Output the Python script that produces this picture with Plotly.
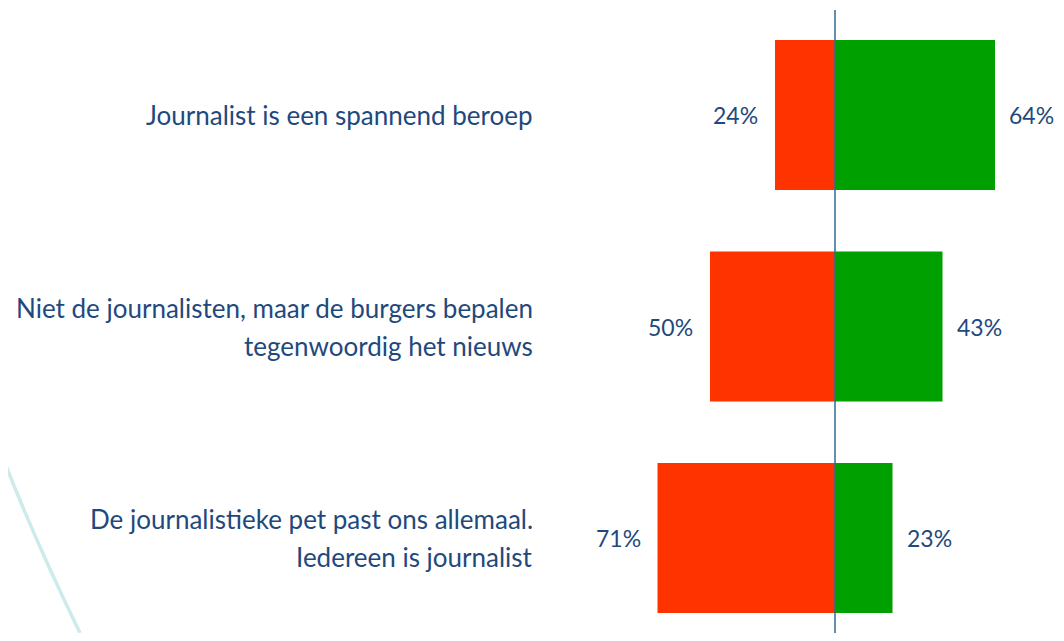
import plotly.graph_objects as go

categories = [
    ["Journalist is een spannend beroep"],
    ["Niet de journalisten, maar de burgers bepalen", "tegenwoordig het nieuws"],
    ["De journalistieke pet past ons allemaal.", "Iedereen is journalist"],
]
disagree = [24, 50, 71]
agree = [64, 43, 23]

OFF = 8           # default page body margin
W, H = 1064 - 2 * OFF, 641 - 2 * OFF
CX = 835 - OFF    # pixel of zero line
PX_PER = 2.5      # pixels per percent
ROW = 211.5       # pixels per category
Y0 = 115 - OFF    # pixel center of first row

xr = [-CX / PX_PER, (W - CX) / PX_PER]
yr = [(H - Y0) / ROW, -Y0 / ROW]

TXT = "#1F497D"
FONT = "Lato"
FS_CAT = 26
FS_PCT = 23
ypos = list(range(len(categories)))

fig = go.Figure()
fig.add_trace(go.Bar(
    y=ypos, x=[-v for v in disagree], orientation="h",
    marker=dict(color="#FF3300", line=dict(width=0)), width=150 / ROW,
    hoverinfo="skip",
))
fig.add_trace(go.Bar(
    y=ypos, x=agree, orientation="h",
    marker=dict(color="#00A000", line=dict(width=0)), width=150 / ROW,
    hoverinfo="skip",
))

LH = 38
for i, lines in enumerate(categories):
    n = len(lines)
    for j, line in enumerate(lines):
        fig.add_annotation(x=(535 - CX - OFF) / PX_PER, y=i, text=line, xanchor="right",
                           yshift=-(j - (n - 1) / 2) * LH, showarrow=False,
                           font=dict(family=FONT, size=FS_CAT, color=TXT))
    fig.add_annotation(x=-disagree[i], y=i, text=f"{disagree[i]}%", xanchor="right",
                       xshift=-15, showarrow=False,
                       font=dict(family=FONT, size=FS_PCT, color=TXT))
    fig.add_annotation(x=agree[i], y=i, text=f"{agree[i]}%", xanchor="left",
                       xshift=12, showarrow=False,
                       font=dict(family=FONT, size=FS_PCT, color=TXT))

# zero line
fig.add_shape(type="line", xref="x", yref="paper", x0=0, x1=0, y0=0,
              y1=1 - (10 - OFF) / H, line=dict(color="#2E6E8E", width=1.5))

# decorative arc (slide background)
def p(px, py):
    return f"{(px - OFF) / W:.4f},{1 - (py - OFF) / H:.4f}"

fig.add_shape(type="path", xref="paper", yref="paper",
              path=f"M {p(-2, 445)} Q {p(30, 530)} {p(80, 633)}",
              line=dict(color="#CDEBEB", width=3.5))

fig.update_layout(
    width=W, height=H, barmode="overlay", showlegend=False,
    margin=dict(l=0, r=0, t=0, b=0),
    paper_bgcolor="white", plot_bgcolor="white",
    xaxis=dict(range=xr, visible=False, fixedrange=True),
    yaxis=dict(range=yr, visible=False, fixedrange=True),
)
fig.write_html("out.html")
